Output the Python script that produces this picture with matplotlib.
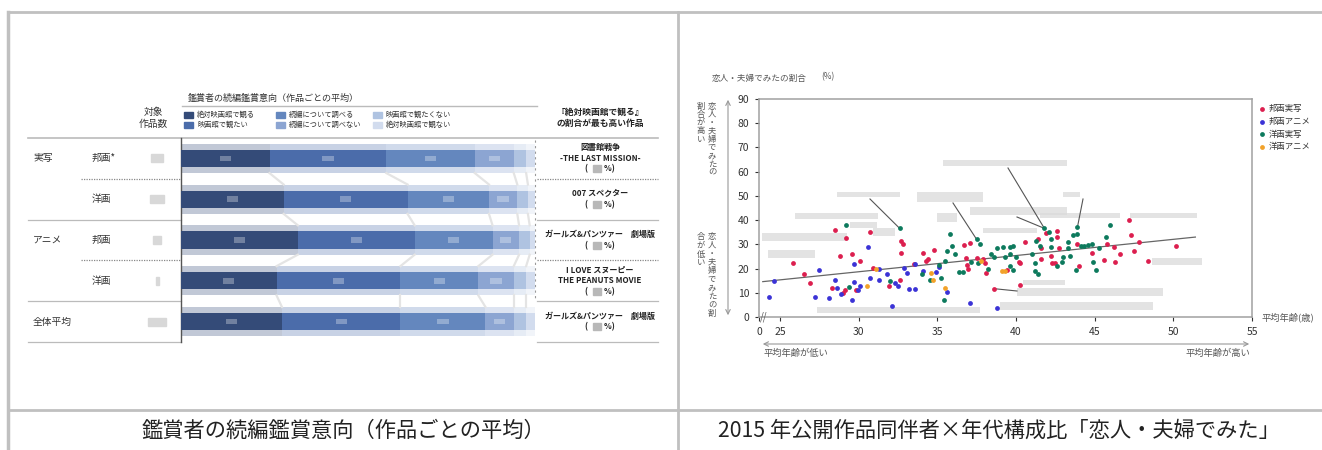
import matplotlib
matplotlib.use("Agg")
import matplotlib.pyplot as plt
from matplotlib.patches import Rectangle

plt.rcParams["font.family"] = ["Noto Sans CJK JP", "DejaVu Sans"]

# ---------------- left chart data: 続編鑑賞意向 ----------------
group_labels = ["実写", "", "アニメ", "", "全体平均"]
row_labels = ["邦画*", "洋画", "邦画", "洋画", ""]
intent_labels = ["絶対映画館で観る", "映画館で観たい", "続編について調べる",
                 "続編について調べない", "映画館で観たくない", "絶対映画館で観ない"]
# share (%) of each answer, rows in the order above
must_theater = [25.0, 29.0, 33.0, 27.0, 28.5]
want_theater = [33.0, 35.0, 33.0, 35.0, 33.5]
will_check = [25.0, 23.0, 22.0, 22.0, 24.0]
wont_check = [11.0, 8.0, 7.5, 10.0, 8.0]
not_theater = [3.5, 3.0, 3.0, 3.5, 3.5]
never_theater = [2.5, 2.0, 1.5, 2.5, 2.5]
top_titles = ["図書館戦争\n-THE LAST MISSION-", "007 スペクター",
              "ガールズ&パンツァー　劇場版", "I LOVE スヌーピー\nTHE PEANUTS MOVIE",
              "ガールズ&パンツァー　劇場版"]

# ---------------- right chart data: 平均年齢 x 恋人・夫婦でみた割合 ----------------
series_names = ["邦画実写", "邦画アニメ", "洋画実写", "洋画アニメ"]
jp_live_age = [25.8, 26.5, 26.9, 28.3, 28.5, 28.8, 29.2, 29.1, 29.0, 29.6, 29.8, 30.1, 30.7,
               30.9, 31.9, 32.6, 32.7, 32.7, 32.8, 33.5, 34.1, 34.3, 34.4, 34.8, 36.7, 36.9,
               36.95, 37.05, 36.8, 37.5, 37.9, 38.0, 38.1, 38.6, 39.4, 40.2, 40.25, 40.25,
               40.6, 41.4, 41.6, 41.6, 41.9, 42.2, 42.3, 42.5, 42.6, 42.6, 42.7, 43.9, 44.0,
               44.8, 45.6, 45.8, 46.2, 46.3, 46.6, 47.2, 47.3, 47.5, 47.8, 48.4, 50.2]
jp_live_pct = [22.3, 17.9, 14.1, 12.0, 36.1, 25.1, 32.7, 11.0, 9.9, 25.9, 11.0, 23.0, 34.9,
               20.4, 12.7, 15.4, 26.6, 31.3, 30.3, 21.7, 26.5, 23.0, 24.0, 27.6, 29.9, 21.4,
               20.0, 30.6, 24.4, 24.4, 24.1, 22.3, 18.2, 11.7, 19.6, 22.8, 22.1, 13.1,
               30.8, 32.4, 28.3, 24.1, 34.5, 25.1, 22.1, 22.1, 33.1, 35.4, 28.3, 30.3, 21.0,
               26.5, 23.7, 30.3, 29.0, 22.8, 25.9, 40.0, 33.9, 27.2, 30.8, 23.0, 29.2]
jp_anime_age = [24.3, 24.6, 27.2, 27.5, 28.1, 28.5, 28.6, 28.9, 29.7, 29.7, 29.6, 29.97,
                30.07, 30.6, 30.7, 31.3, 31.3, 31.8, 32.1, 32.3, 32.5, 32.9, 33.1, 33.2,
                33.6, 33.6, 34.1, 34.9, 35.1, 35.6, 37.05, 38.8]
jp_anime_pct = [8.3, 14.8, 8.3, 19.6, 8.0, 15.4, 12.0, 9.7, 21.8, 14.5, 7.2, 11.0,
                12.7, 28.8, 15.9, 19.7, 15.4, 17.9, 4.4, 14.1, 12.7, 20.4, 18.2, 11.6,
                21.7, 11.6, 19.0, 18.6, 20.7, 10.3, 5.8, 3.9]
fg_live_age = [29.2, 29.4, 32.0, 32.6, 34.0, 34.5, 35.1, 35.2, 35.4, 35.6, 35.5, 35.8, 35.9,
               36.1, 36.4, 36.6, 37.15, 37.5, 37.7, 37.6, 38.2, 38.4, 38.6, 38.8, 39.2, 39.3,
               39.6, 39.8, 39.6, 40.0, 39.6, 39.8, 41.0, 41.2, 41.2, 41.3, 41.5, 41.4, 41.8,
               42.1, 42.2, 42.2, 42.6, 43.0, 42.9, 43.3, 43.3, 43.4, 43.6, 43.8, 43.9, 43.9,
               44.1, 44.3, 44.6, 44.8, 44.9, 45.1, 45.3, 45.7, 46.0]
fg_live_pct = [37.8, 12.4, 14.8, 36.6, 17.7, 15.2, 21.4, 15.9, 6.9, 27.2, 23.0, 34.1, 29.2,
               25.9, 18.6, 18.6, 22.8, 32.0, 30.3, 22.3, 20.0, 26.2, 24.8, 28.3, 28.7, 24.6,
               29.0, 29.2, 26.2, 24.8, 21.1, 19.6, 25.9, 22.1, 19.0, 31.4, 29.4, 17.9, 36.6,
               35.2, 32.4, 29.0, 21.0, 24.8, 22.8, 31.0, 28.3, 25.1, 33.8, 19.6, 34.1, 37.0,
               29.2, 29.2, 29.7, 30.3, 22.8, 19.6, 28.6, 33.1, 37.9]
fg_anime_age = [30.5, 31.1, 34.6, 34.7, 35.5, 37.8, 39.1, 39.3]
fg_anime_pct = [12.8, 19.7, 18.2, 15.2, 12.0, 23.2, 18.9, 19.0]
trend_age = [23.9, 51.4]
trend_pct = [14.6, 33.0]
x_ticks = [23.66, 25, 30, 35, 40, 45, 50, 55]
x_ticklabels = ["0", "25", "30", "35", "40", "45", "50", "55"]

W, H = 1322, 450
fig = plt.figure(figsize=(W / 100, H / 100), dpi=100)

# full-size canvas in pixel coordinates for the frame and loose texts
bg = fig.add_axes([0, 0, 1, 1])
bg.set_xlim(0, W)
bg.set_ylim(H, 0)
bg.axis("off")


def px_axes(x0, y0, x1, y1):
    return fig.add_axes([x0 / W, 1 - y1 / H, (x1 - x0) / W, (y1 - y0) / H])


frame = "#c0c0c0"
bg.plot([8, W], [12, 12], color=frame, lw=2)
bg.plot([8, 8], [12, H], color=frame, lw=2.5)
bg.plot([678, 678], [12, H], color=frame, lw=2)
bg.plot([8, W], [410, 410], color=frame, lw=2)
bg.text(343, 431, "鑑賞者の続編鑑賞意向（作品ごとの平均）", fontsize=15.3,
        ha="center", va="center", color="#222")
bg.text(999, 431, "2015 年公開作品同伴者×年代構成比「恋人・夫婦でみた」", fontsize=15.3,
        ha="center", va="center", color="#222")

# ---------------- left chart ----------------
colors = ["#344b78", "#4b6caa", "#6487be", "#8ca5d2", "#afc3e1", "#d2dcee"]
series = [must_theater, want_theater, will_check, wont_check, not_theater, never_theater]
txt = "#333"

bg.text(188, 98, "鑑賞者の続編鑑賞意向（作品ごとの平均）", fontsize=6.5, va="center", color=txt)
bg.plot([182, 537], [106, 106], color="#bbbbbb", lw=1)
leg_cols = [184, 276, 373]
for k, lab in enumerate(intent_labels):
    cx = leg_cols[k // 2]
    cy = 115 + 9.5 * (k % 2)
    bg.add_patch(Rectangle((cx, cy - 3), 9, 6, color=colors[k]))
    bg.text(cx + 13, cy, lab, fontsize=5.2, va="center", color=txt)

bg.text(153, 118, "対象\n作品数", fontsize=7, ha="center", va="center",
        linespacing=1.15, color=txt)
bg.text(600, 118, "『絶対映画館で観る』\nの割合が最も高い作品", fontsize=6.3, ha="center",
        va="center", fontweight="bold", linespacing=1.25, color="#222")
bg.plot([28, 658], [138, 138], color="#bbbbbb", lw=1.2)

row_y = [158.4, 199.2, 240.0, 280.8, 321.6]
count_w = [12, 14, 8, 3, 18]
for i in range(len(row_labels)):
    yy = row_y[i]
    if group_labels[i]:
        bg.text(33, yy, group_labels[i], fontsize=7, va="center", color=txt)
    if row_labels[i]:
        bg.text(92, yy, row_labels[i], fontsize=7, va="center", color=txt)
    bg.add_patch(Rectangle((157 - count_w[i] / 2, yy - 4), count_w[i], 8,
                           color="#d8d8d8"))
    lines = top_titles[i].count("\n") + 2
    bg.text(600, yy, top_titles[i] + "\n(　　%)", fontsize=5.8, ha="center",
            va="center", fontweight="bold", linespacing=1.25, color="#222")
    last = yy + (lines - 1) / 2 * 10.3
    bg.add_patch(Rectangle((593, last - 3.5), 8, 7, color="#b8b8b8"))

# separators
for yy, dotted in [(178.8, True), (219.6, False), (260.4, True), (301.2, False), (342, False)]:
    ls = (0, (1, 1)) if dotted else "-"
    x_left = 81 if dotted else 28
    bg.plot([x_left, 181], [yy, yy], color="#888" if dotted else "#bbbbbb", lw=0.9, ls=ls)
    bg.plot([537, 658], [yy, yy], color="#888" if dotted else "#bbbbbb", lw=0.9, ls=ls)
bg.plot([535, 535], [140, 300], color="#999", lw=0.8, ls=(0, (2, 3)))

axb = px_axes(181, 138, 535, 342)
axb.patch.set_alpha(0)
ypos = list(range(len(row_labels)))
left = [0.0] * len(ypos)
bounds = []
for k, vals in enumerate(series):
    axb.barh(ypos, vals, left=left, height=0.72, color=colors[k], alpha=0.3,
             linewidth=0, zorder=1)
    axb.barh(ypos, vals, left=left, height=0.42, color=colors[k], linewidth=0,
             zorder=3, label=intent_labels[k])
    if k < 4:
        centers = [l + v / 2 for l, v in zip(left, vals)]
        for yi, cxv in zip(ypos, centers):
            axb.add_patch(Rectangle((cxv - 1.6, yi - 0.07), 3.2, 0.14,
                                    color="white", alpha=0.3, zorder=4, lw=0))
    left = [l + v for l, v in zip(left, vals)]
    bounds.append(list(left))
# series lines between bars
for b in bounds[:-1]:
    for i in range(len(ypos) - 1):
        axb.plot([b[i], b[i + 1]], [ypos[i] + 0.36, ypos[i + 1] - 0.36],
                 color="#e4e4e4", lw=1.6, zorder=2)
axb.set_xlim(0, 100)
axb.set_ylim(4.5, -0.5)
axb.set_xticks([])
axb.set_yticks([])
for s in ["top", "right", "bottom"]:
    axb.spines[s].set_visible(False)
axb.spines["left"].set_color("#555")
axb.spines["left"].set_linewidth(1)

# ---------------- right chart ----------------
axs = px_axes(759, 99, 1252, 317)
axs.patch.set_alpha(0)
pt_colors = ["#dc1f4f", "#3b33d6", "#0d7a5d", "#f2a22a"]
ages = [jp_live_age, jp_anime_age, fg_live_age, fg_anime_age]
pcts = [jp_live_pct, jp_anime_pct, fg_live_pct, fg_anime_pct]
for name, col, xa, ya in zip(series_names, pt_colors, ages, pcts):
    axs.scatter(xa, ya, s=12, color=col, linewidths=0, label=name, zorder=3)
axs.plot(trend_age, trend_pct, color="#666", lw=0.9, zorder=2)
axs.set_xlim(23.66, 55)
axs.set_ylim(0, 90)
axs.set_xticks(x_ticks)
axs.set_xticklabels(x_ticklabels)
axs.set_yticks(range(0, 91, 10))
axs.tick_params(labelsize=7.5, colors="#333", length=3, width=0.8, pad=4)
for s in axs.spines.values():
    s.set_color("#a0a0a0")
    s.set_linewidth(1.1)
axs.text(23.95, 0, "//", fontsize=7, ha="center", va="center", color="#555",
         zorder=5, clip_on=False)
leg = axs.legend(loc="upper left", bbox_to_anchor=(1.0, 1.0), frameon=False,
                 fontsize=6, handletextpad=0.2, labelspacing=0.45, borderaxespad=0.2,
                 handlelength=1.2)
for t in leg.get_texts():
    t.set_color("#333")


# blurred (masked) annotation labels, in pixel coordinates
def px2x(p):
    return 23.66 + (p - 759) / 493 * (55 - 23.66)


def py2y(p):
    return (317 - p) / 218 * 90


masks = [(943, 160, 1067, 166), (837, 192, 900, 197), (917, 192, 983, 202),
         (1063, 192, 1080, 197), (795, 213, 878, 219), (850, 222, 877, 228),
         (873, 228, 895, 236), (762, 233, 847, 241), (768, 250, 815, 258),
         (937, 213, 957, 222), (970, 207, 1067, 215), (1040, 213, 1120, 218),
         (1130, 213, 1197, 218), (983, 228, 1037, 233), (1152, 258, 1202, 265),
         (1023, 280, 1065, 285), (1017, 288, 1163, 296), (817, 307, 980, 313),
         (1000, 302, 1153, 310)]
for x0, y0, x1, y1 in masks:
    axs.add_patch(Rectangle((px2x(x0), py2y(y1)), px2x(x1) - px2x(x0),
                            py2y(y0) - py2y(y1), color="#dadada", alpha=0.75,
                            lw=0, zorder=2))
leaders = [((1008, 168), (41.8, 36.6)), ((870, 199), (32.6, 36.6)),
           ((953, 203), (37.5, 32.0)), ((1083, 199), (43.9, 37.0)),
           ((1017, 217), (41.8, 36.6)), ((1017, 291), (38.6, 11.7))]
for (qx, qy), (dx, dy) in leaders:
    axs.plot([px2x(qx), dx], [py2y(qy), dy], color="#555", lw=0.8, zorder=2)

bg.text(712, 78, "恋人・夫婦でみたの割合", fontsize=6.2, va="center", color="#555")
bg.text(828, 77, "(%)", fontsize=6, ha="center", va="center", color="#555")
bg.text(1261, 317, "平均年齢(歳)", fontsize=6.7, va="center", color="#555")
bg.annotate("", xy=(728, 97), xytext=(728, 318),
            arrowprops=dict(arrowstyle="<->", color="#999", lw=0.8,
                            mutation_scale=8))
bg.annotate("", xy=(760, 344), xytext=(1252, 344),
            arrowprops=dict(arrowstyle="<->", color="#999", lw=0.8,
                            mutation_scale=8))
bg.text(764, 353, "平均年齢が低い", fontsize=6.7, va="center", color="#555")
bg.text(1250, 353, "平均年齢が高い", fontsize=6.7, ha="right", va="center", color="#555")


def vtext(s, x, y0, step):
    for i, ch in enumerate(s):
        bg.text(x, y0 + i * step, ch, fontsize=6, ha="center", va="center", color="#555")


vtext("恋人・夫婦でみたの", 712, 106, 8.3)
vtext("割合が高い", 701, 106, 8.3)
vtext("恋人・夫婦でみたの割", 712, 237, 8.5)
vtext("合が低い", 701, 237, 8.5)

fig.savefig("out.png", dpi=100)
